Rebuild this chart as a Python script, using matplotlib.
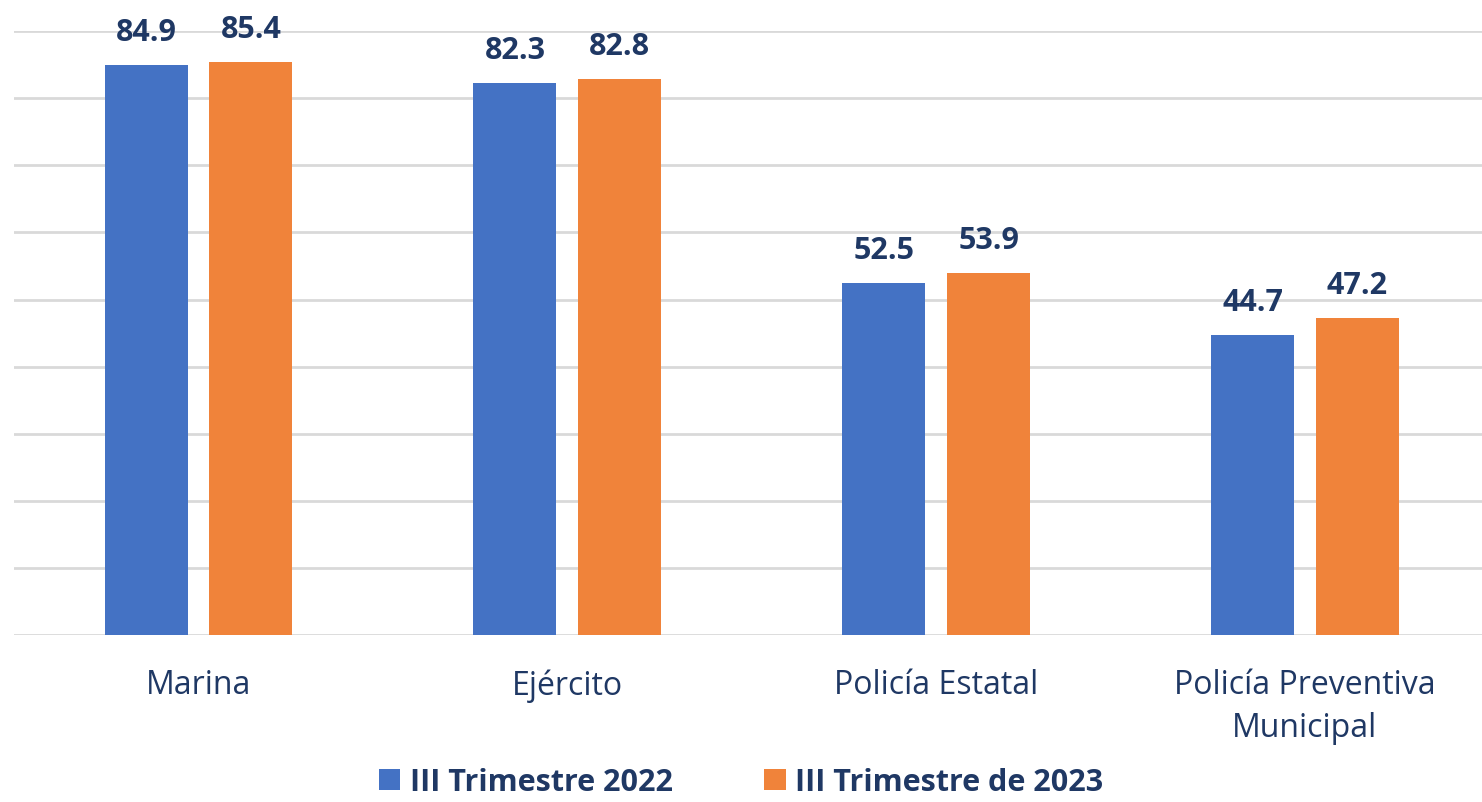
import matplotlib.pyplot as plt
import numpy as np

# -------------------------------
# Data
# -------------------------------
categories = ['Marina', 'Ejército', 'Policía Estatal', 'Policía Preventiva\nMunicipal']
series_names = ['III Trimestre 2022', 'III Trimestre de 2023']
values_2022 = [84.9, 82.3, 52.5, 44.7]
values_2023 = [85.4, 82.8, 53.9, 47.2]

blue = '#4472C4'
orange = '#F0833A'
navy = '#1F3864'
grid_color = '#D9D9D9'

plt.rcParams['font.family'] = ['Open Sans', 'DejaVu Sans']

fig = plt.figure(figsize=(14.82, 8.03), dpi=100)
ax = fig.add_axes([0.0095, 0.208, 0.9955, 0.752])

x = np.arange(len(categories))
width = 0.225
offset = 0.142

bars1 = ax.bar(x - offset, values_2022, width, color=blue, label=series_names[0], zorder=3)
bars2 = ax.bar(x + offset, values_2023, width, color=orange, label=series_names[1], zorder=3)

# Data labels
for bars in (bars1, bars2):
    for b in bars:
        ax.annotate(f'{b.get_height():.1f}',
                    (b.get_x() + b.get_width() / 2, b.get_height()),
                    xytext=(0, 13), textcoords='offset points',
                    ha='center', va='bottom', fontsize=22, fontweight='bold',
                    color=navy)

ax.set_xlim(-0.5, len(categories) - 0.5)
ax.set_ylim(0, 90)
ax.set_yticks(np.arange(0, 91, 10))
ax.yaxis.grid(True, color=grid_color, linewidth=2, zorder=0)
ax.set_yticklabels([])
ax.tick_params(axis='y', length=0)

ax.set_xticks(x)
ax.set_xticklabels(categories, fontsize=23, color=navy, linespacing=1.4)
ax.tick_params(axis='x', length=0, pad=24)

for s in ax.spines.values():
    s.set_visible(False)

leg = fig.legend(handles=[bars1, bars2], labels=series_names, loc='lower center',
                 bbox_to_anchor=(0.5, -0.028), ncol=2, frameon=False,
                 prop={'size': 22, 'weight': 'bold'},
                 handlelength=0.7, handleheight=0.7, handletextpad=0.3,
                 columnspacing=3.0)
for t in leg.get_texts():
    t.set_color(navy)

fig.savefig('out.png', dpi=100)
